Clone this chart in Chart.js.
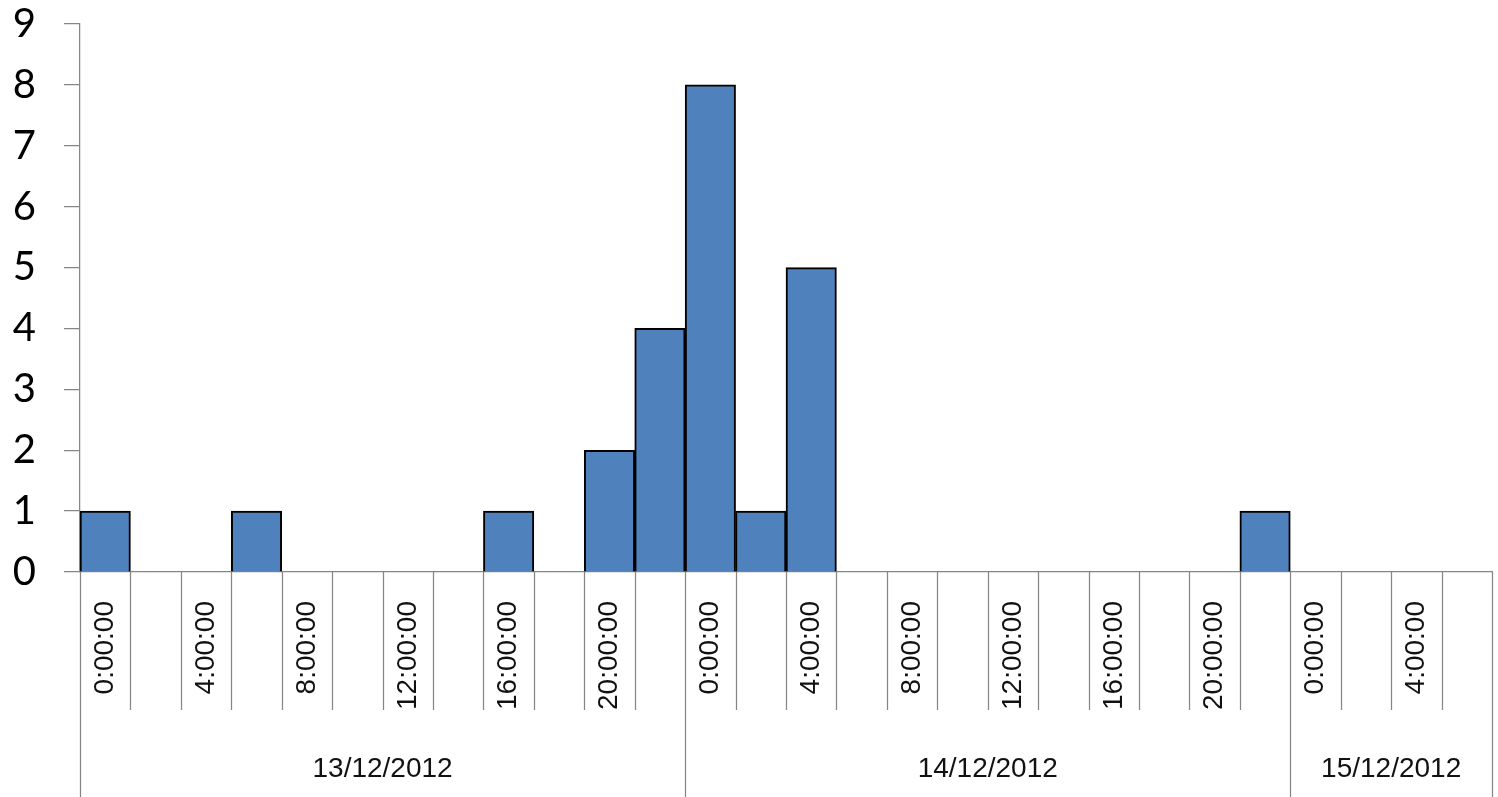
<!DOCTYPE html>
<html>
<head>
<meta charset="utf-8">
<script src="https://cdn.jsdelivr.net/npm/chart.js@4.4.1/dist/chart.umd.min.js"></script>
<style>
  html, body { margin: 0; padding: 0; background: #fff; }
  #wrap { width: 1498px; height: 797px; position: relative; }
</style>
</head>
<body>
<div id="wrap"><canvas id="myChart"></canvas></div>
<script>
// 2-hour bins, three days
const hourLabels = [
  '0:00:00', '2:00:00', '4:00:00', '6:00:00', '8:00:00', '10:00:00',
  '12:00:00', '14:00:00', '16:00:00', '18:00:00', '20:00:00', '22:00:00',
  '0:00:00', '2:00:00', '4:00:00', '6:00:00', '8:00:00', '10:00:00',
  '12:00:00', '14:00:00', '16:00:00', '18:00:00', '20:00:00', '22:00:00',
  '0:00:00', '2:00:00', '4:00:00', '6:00:00'
];
const dayLabels = ['13/12/2012', '14/12/2012', '15/12/2012'];
const binsPerDay = [12, 12, 4];
const counts = [
  1, 0, 0, 1, 0, 0, 0, 0, 1, 0, 2, 4,
  8, 1, 5, 0, 0, 0, 0, 0, 0, 0, 0, 1,
  0, 0, 0, 0
];
const yTicks = [0, 1, 2, 3, 4, 5, 6, 7, 8, 9];

const axisGrey = '#868686';
const labelFont = '"Liberation Sans", Arial, sans-serif';

// draws the bin separators and the date row under the hours
const groupAxis = {
  id: 'groupAxis',
  afterDraw(chart) {
    const x = chart.scales.x;
    const c = chart.ctx;
    const half = (x.getPixelForValue(1) - x.getPixelForValue(0)) / 2;
    const top = x.top;
    const starts = [0];
    binsPerDay.forEach(n => starts.push(starts[starts.length - 1] + n));

    c.save();
    c.strokeStyle = axisGrey;
    c.lineWidth = 1.25;
    for (let i = 0; i <= hourLabels.length; i++) {
      const px = i < hourLabels.length ? x.getPixelForValue(i) - half : x.getPixelForValue(i - 1) + half;
      const bottom = starts.includes(i) ? chart.height : top + 138;
      c.beginPath();
      c.moveTo(Math.round(px) + 0.5, top);
      c.lineTo(Math.round(px) + 0.5, bottom);
      c.stroke();
    }

    c.fillStyle = '#111';
    c.font = '28px ' + labelFont;
    c.textAlign = 'center';
    c.textBaseline = 'middle';
    dayLabels.forEach((d, k) => {
      const a = x.getPixelForValue(starts[k]) - half;
      const b = x.getPixelForValue(starts[k + 1] - 1) + half;
      c.fillText(d, (a + b) / 2, 769);
    });
    c.restore();
  }
};

const ctx = document.getElementById('myChart');

new Chart(ctx, {
  type: 'bar',
  data: {
    labels: hourLabels,
    datasets: [{
      data: counts,
      backgroundColor: '#4F81BD',
      borderColor: '#000',
      borderWidth: 2,
      barPercentage: 1,
      categoryPercentage: 1
    }]
  },
  options: {
    responsive: true,
    maintainAspectRatio: false,
    animation: false,
    layout: { autoPadding: false, padding: { top: 24, right: 6, left: 0, bottom: 0 } },
    plugins: {
      legend: { display: false },
      tooltip: { enabled: false }
    },
    scales: {
      x: {
        grid: { display: false },
        border: { display: true, color: axisGrey, width: 1.25 },
        ticks: {
          autoSkip: false,
          minRotation: 90,
          maxRotation: 90,
          padding: 21,
          color: '#111',
          font: { family: labelFont, size: 28 },
          callback: (v, i) => (i % 2 === 0 ? hourLabels[i] : '')
        },
        afterFit: s => {
          s.height = 225;
          s.paddingLeft = 0;
          s.paddingRight = 0;
        }
      },
      y: {
        min: 0,
        max: 9,
        afterBuildTicks: s => { s.ticks = yTicks.map(v => ({ value: v })); },
        grid: { drawOnChartArea: false, tickLength: 16, color: axisGrey, lineWidth: 1.25 },
        border: { display: true, color: axisGrey, width: 1.25 },
        ticks: {
          padding: 28,
          color: '#000',
          font: { family: 'Lato, "Open Sans", sans-serif', size: 40 }
        },
        afterFit: s => {
          s.width = 80;
          s.paddingTop = 0;
          s.paddingBottom = 0;
        }
      }
    }
  },
  plugins: [groupAxis]
});
</script>
</body>
</html>
